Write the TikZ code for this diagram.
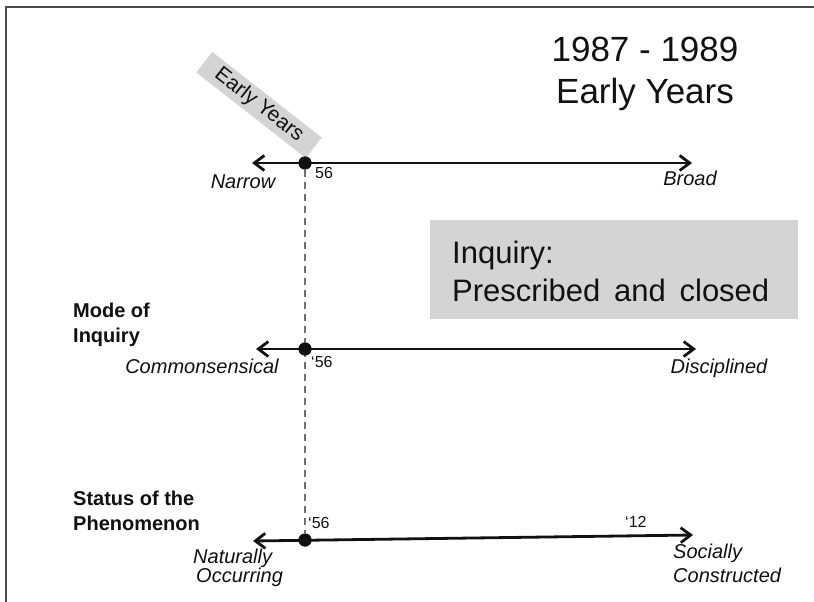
\documentclass[tikz,border=0pt]{standalone}
\usepackage{fontspec}
\setmainfont{Liberation Sans}
\usetikzlibrary{arrows.meta}
\definecolor{boxgray}{HTML}{D4D4D4}
\definecolor{framegray}{HTML}{4A4A4A}
\definecolor{dashgray}{HTML}{707070}
\definecolor{ink}{HTML}{111111}
\begin{document}
\begin{tikzpicture}[x=1pt,y=-1pt,
  every node/.style={inner sep=0pt, text=ink},
  lbl/.style={font=\fontsize{20}{24}\selectfont\itshape, anchor=base},
  lblw/.style={font=\fontsize{20}{24}\selectfont\itshape, anchor=base west},
  head/.style={font=\fontsize{20}{24}\selectfont\bfseries, anchor=base west},
  yr/.style={font=\fontsize{16}{19}\selectfont, anchor=base west},
  title/.style={font=\fontsize{35}{42}\selectfont, anchor=base},
  boxtext/.style={font=\fontsize{31}{37}\selectfont, anchor=base west},
  dot/.style={circle, fill=ink, minimum size=13pt, inner sep=0pt},
  axisline/.style={draw=ink, line width=2.8pt, {Straight Barb[length=10pt,width=15pt]}-{Straight Barb[length=10pt,width=15pt]}},
  dashline/.style={draw=dashgray, line width=1.8pt, dash pattern=on 7pt off 5pt}
]
\useasboundingbox (0,0) rectangle (814,602);
\fill[white] (0,0) rectangle (814,602);
% frame
\draw[framegray, line width=2pt] (6,602) -- (6,7) -- (814,7);

% title
\node[title] (t1) at (645,62) {1987 - 1989};
\node[title] (t2) at (645,103) {Early Years};

% inquiry box
\node[fill=boxgray, minimum width=368pt, minimum height=99pt, anchor=north west] (ibox) at (430,220) {};
\node[boxtext] (i1) at (452,263) {Inquiry:};
\node[boxtext] (i2) at (452,301) {Prescribed\ \,and\ \,closed};

% rotated label
\node[fill=boxgray, minimum width=139pt, minimum height=26pt, rotate=-38,
  font=\fontsize{21}{25}\selectfont] (ey) at (259,105) {Early Years};

% axes end points
\coordinate (al) at (252,163);
\coordinate (ar) at (692,163);
\coordinate (bl) at (256,349);
\coordinate (br) at (696,349);
\coordinate (cl) at (253,541);
\coordinate (cr) at (693,535);

% dots
\node[dot] (d1) at (305,163) {};
\node[dot] (d2) at (305,349) {};
\node[dot] (d3) at (305,540) {};

% dashed line
\draw[dashline] (d1) -- (d3);

% axes
\draw[axisline] (al) -- (ar);
\draw[axisline] (bl) -- (br);
\draw[axisline] (cl) -- (cr);
\node[dot] at (d1) {};
\node[dot] at (d2) {};
\node[dot] at (d3) {};

% year labels
\node[yr] (y1) at (315,178) {56};
\node[yr] (y2) at (311,367) {‘56};
\node[yr] (y3) at (308,528) {‘56};
\node[yr] (y4) at (625,527) {‘12};

% axis end labels
\node[lbl] (narrow) at (243,188) {Narrow};
\node[lbl] (broad) at (690,185) {Broad};
\node[lbl] (common) at (202,373) {Commonsensical};
\node[lbl] (disc) at (719,373) {Disciplined};
\node[lblw] (nat1) at (193,563) {Naturally};
\node[lblw] (nat2) at (196,582) {Occurring};
\node[lblw] (soc1) at (673,558) {Socially};
\node[lblw] (soc2) at (673,582) {Constructed};

% headings
\node[head] (m1) at (73,317) {Mode of};
\node[head] (m2) at (73,342) {Inquiry};
\node[head] (s1) at (73,505) {Status of the};
\node[head] (s2) at (73,530) {Phenomenon};
\end{tikzpicture}
\end{document}
